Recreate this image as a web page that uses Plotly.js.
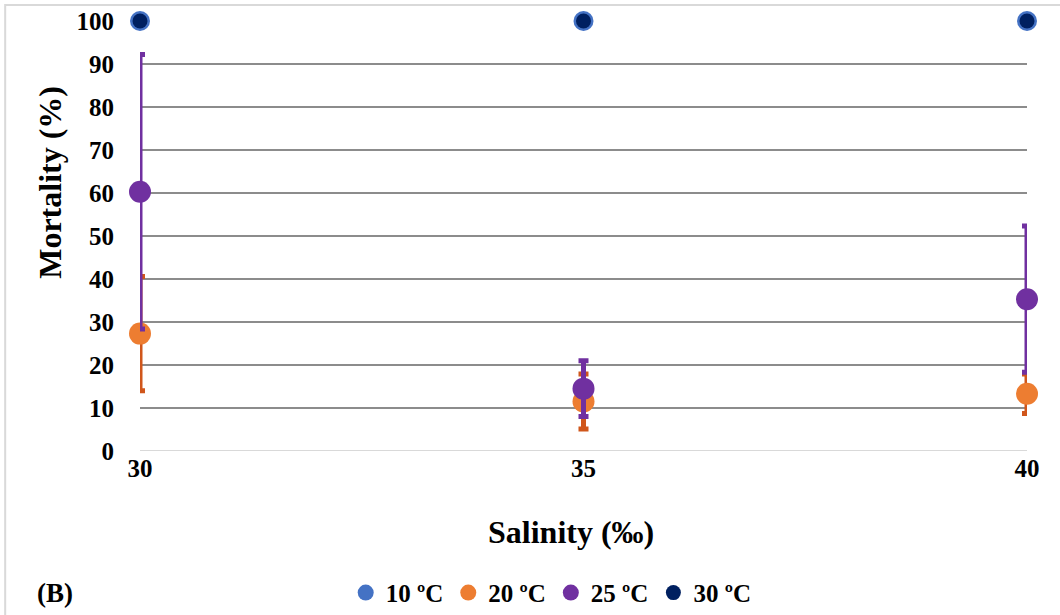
<!DOCTYPE html>
<html>
<head>
<meta charset="utf-8">
<script src="https://cdn.plot.ly/plotly-3.0.1.min.js"></script>
<style>html,body{margin:0;padding:0;background:#fff;}#chart{width:1060px;height:615px;}</style>
</head>
<body>
<div id="chart"></div>
<script>
const salinity = [30, 35, 40];
const seriesNames = ['10 ºC', '20 ºC', '25 ºC', '30 ºC'];
const mort10 = [100, 100, 100];
const mort20 = [27.3, 11.5, 13.3];
const err20 = [13.3, 6.4, 4.6];
const mort25 = [60.3, 14.5, 35.3];
const err25 = [31.9, 6.5, 17.0];
const mort30 = [100, 100, 100];
const xTitle = 'Salinity (‰)';
const yTitle = 'Mortality (%)';

const F = 'Liberation Serif, Times New Roman, serif';

const traces = [
  {x: salinity, y: mort10, name: seriesNames[0], type: 'scatter', mode: 'markers', cliponaxis: false,
   marker: {color: '#4472C4', size: 20}},
  {x: salinity, y: mort20, name: seriesNames[1], type: 'scatter', mode: 'markers', cliponaxis: false,
   marker: {color: '#ED7D31', size: 22},
   error_y: {type: 'data', array: err20, visible: true, color: '#D0561B', thickness: 5, width: 5}},
  {x: salinity, y: mort25, name: seriesNames[2], type: 'scatter', mode: 'markers', cliponaxis: false,
   marker: {color: '#7030A0', size: 22},
   error_y: {type: 'data', array: err25, visible: true, color: '#7030A0', thickness: 5, width: 5}},
  {x: salinity, y: mort30, name: seriesNames[3], type: 'scatter', mode: 'markers', cliponaxis: false,
   marker: {color: '#002060', size: 15}}
];

const layout = {
  width: 1060, height: 615,
  margin: {l: 140, r: 33, t: 21, b: 164, autoexpand: false},
  paper_bgcolor: '#fff', plot_bgcolor: '#fff',
  font: {family: F, color: '#000', size: 20},
  showlegend: true,
  legend: {orientation: 'h', xref: 'container', yref: 'container', x: 0.52, xanchor: 'center', y: 0.036, yanchor: 'middle',
           font: {family: F, size: 25, weight: 'bold'}, itemwidth: 30, tracegroupgap: 0},
  xaxis: {
    range: [30, 40], tickvals: salinity, ticktext: salinity.map(String),
    showgrid: false, zeroline: false, showline: false,
    tickfont: {family: F, size: 25, weight: 'bold'}, ticks: ''
  },
  yaxis: {
    range: [0, 100], tickvals: [0,10,20,30,40,50,60,70,80,90,100],
    showgrid: true, gridcolor: '#8c8c8c', gridwidth: 2, zeroline: false,
    showline: false,
    tickfont: {family: F, size: 25, weight: 'bold'},
    ticks: 'outside', ticklen: 20, tickcolor: 'rgba(0,0,0,0)'
  },
  shapes: [
    {type: 'line', xref: 'paper', yref: 'y', x0: 0, x1: 1, y0: 0, y1: 0, line: {color: '#d9d9d9', width: 2}, layer: 'below'},
    {type: 'rect', xref: 'paper', yref: 'paper', x0: -0.152, x1: 1.2, y0: -0.6, y1: 1.037, line: {color: '#d9d9d9', width: 2}, layer: 'below'}
  ],
  annotations: [
    {text: xTitle, xref: 'paper', yref: 'paper', x: 0.486, y: -0.188, xanchor: 'center', yanchor: 'middle',
     showarrow: false, font: {family: F, size: 32, weight: 'bold'}},
    {text: yTitle, xref: 'paper', yref: 'paper', x: -0.1015, y: 0.626, xanchor: 'center', yanchor: 'middle', textangle: -90,
     showarrow: false, font: {family: F, size: 32, weight: 'bold'}},
    {text: '(B)', xref: 'paper', yref: 'paper', x: -0.118, y: -0.33, xanchor: 'left', yanchor: 'middle',
     showarrow: false, font: {family: F, size: 27, weight: 'bold'}}
  ]
};

Plotly.newPlot('chart', traces, layout, {displayModeBar: false, staticPlot: true});
</script>
</body>
</html>
